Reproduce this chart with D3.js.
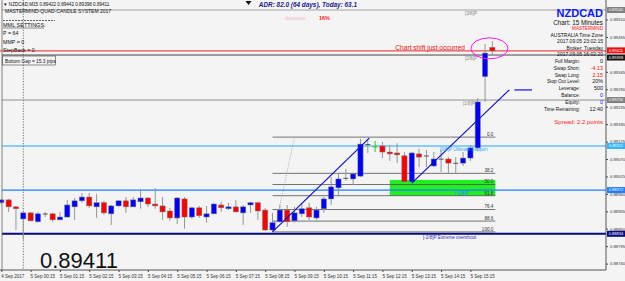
<!DOCTYPE html>
<html><head><meta charset="utf-8">
<script src="https://cdn.jsdelivr.net/npm/d3@7/dist/d3.min.js"></script>
<style>body{margin:0;background:#fff}svg{display:block}text{font-family:"Liberation Sans",Arial,sans-serif}</style>
</head><body><svg id="c" width="625" height="281"></svg>
<script>
// ---- data ----
const openP  = [0.88932,0.88941,0.88919,0.88881,0.88900,0.88872,0.88897,0.88897,0.88878,0.88887,0.88919,0.88938,0.88950,0.88919,0.88932,0.88897,0.88922,0.88938,0.88919,0.88935,0.88947,0.88928,0.88922,0.88906,0.88884,0.88944,0.88887,0.88916,0.88887,0.88897,0.88925,0.88913,0.88919,0.88900,0.88925,0.88932,0.88909,0.88846,0.88872,0.88909,0.88875,0.88897,0.88916,0.88884,0.88913,0.88944,0.88979,0.89010,0.89007,0.89016,0.89117,0.89108,0.89111,0.89092,0.89089,0.89080,0.88998,0.89086,0.89080,0.89048,0.89070,0.89070,0.89057,0.89057,0.89073,0.89105,0.89330,0.89422];
const highP  = [0.88944,0.88944,0.88922,0.88906,0.88903,0.88903,0.88903,0.88900,0.88903,0.88941,0.88947,0.88963,0.88963,0.88960,0.88938,0.88925,0.88941,0.88950,0.88950,0.88976,0.88950,0.88979,0.88950,0.88916,0.88950,0.88950,0.88919,0.88922,0.88922,0.88932,0.88935,0.88932,0.88941,0.88925,0.88935,0.88935,0.88916,0.88900,0.88925,0.88925,0.88919,0.88932,0.88932,0.88919,0.88950,0.89013,0.89026,0.89039,0.89026,0.89133,0.89133,0.89127,0.89124,0.89114,0.89120,0.89092,0.89092,0.89102,0.89098,0.89092,0.89098,0.89076,0.89076,0.89092,0.89114,0.89262,0.89433,0.89442];
const lowP   = [0.88928,0.88903,0.88846,0.88815,0.88872,0.88869,0.88887,0.88872,0.88878,0.88884,0.88878,0.88932,0.88916,0.88884,0.88894,0.88862,0.88919,0.88900,0.88919,0.88913,0.88919,0.88913,0.88878,0.88875,0.88865,0.88850,0.88881,0.88884,0.88869,0.88897,0.88903,0.88909,0.88903,0.88862,0.88900,0.88878,0.88843,0.88840,0.88869,0.88856,0.88869,0.88887,0.88878,0.88878,0.88900,0.88925,0.88957,0.89001,0.88988,0.89013,0.89089,0.89092,0.89073,0.89064,0.89057,0.88995,0.88994,0.89045,0.89045,0.89045,0.89029,0.89026,0.89026,0.89048,0.89064,0.89098,0.89250,0.89398];
const closeP = [0.88941,0.88919,0.88913,0.88900,0.88875,0.88897,0.88896,0.88878,0.88887,0.88925,0.88938,0.88950,0.88922,0.88932,0.88900,0.88922,0.88938,0.88919,0.88941,0.88947,0.88928,0.88922,0.88903,0.88884,0.88947,0.88887,0.88916,0.88891,0.88897,0.88928,0.88916,0.88919,0.88903,0.88919,0.88932,0.88906,0.88846,0.88869,0.88909,0.88872,0.88900,0.88913,0.88887,0.88909,0.88944,0.88982,0.89007,0.89008,0.89023,0.89117,0.89114,0.89108,0.89092,0.89086,0.89083,0.88998,0.89089,0.89076,0.89079,0.89070,0.89069,0.89057,0.89056,0.89073,0.89105,0.89250,0.89404,0.89411];
const signalBars = [51];
const timeTickBars = [0,4,8,12,16,20,24,28,32,36,40,44,48,52,56,60,64];
const timeTickLabels = ["4 Sep 2017","5 Sep 00:15","5 Sep 01:15","5 Sep 02:15","5 Sep 03:15","5 Sep 04:15","5 Sep 05:15","5 Sep 06:15","5 Sep 07:15","5 Sep 08:15","5 Sep 09:15","5 Sep 10:15","5 Sep 11:15","5 Sep 12:15","5 Sep 13:15","5 Sep 14:15","5 Sep 15:15"];
const priceTicks = [0.88740,0.88795,0.88850,0.88905,0.88960,0.89015,0.89070,0.89125,0.89180,0.89235,0.89290,0.89345,0.89455,0.89510];
const separatorBar = 3;
const bidPrice = 0.89411;
const mmlPrices = [0.89540,0.89398,0.89256,0.89111,0.88972,0.88834];
const mmlNames  = ["[3/8]P","[2/8]P","[1/8]P","[0/8]P Ultimate Support","[-1/8]P","[-2/8]P Extreme overshoot"];
const fibHigh = 0.89139, fibLow = 0.88840, fibStartBar = 37, fibEndBar = 67.4;
const fibLevels = [0.0,38.2,50.0,61.8,76.4,88.6,100.0];
const zoneTop = 0.89004, zoneBottom = 0.88954, zoneStartBar = 53, zoneEndBar = 67.4;
const trend1 = [[37,0.88840],[50.2,0.89136]];
const trend2 = [[56,0.88994],[69.3,0.89288]];
const trend2Ext = [[70,0.89288],[72.4,0.89288]];
const guide = [[37.3,0.88846],[40,0.89139]];
const infoLabels = ["Full Margin:","Swap Short:","Swap Long:","Stop Out Level:","Leverage:","Balance:","Equity:","Time Remaining:"];
const infoValues = ["0","-4.13","2.15","20%","500","0","0","12:40"];
const settings = ["P = 64","MMP = 0","StepBack = 0"];

// ---- drawing ----
const svg = d3.select('#c');
const W = 625, H = 281, plotL = 2, plotR = 606, plotB = 270;
svg.append('rect').attr('width',W).attr('height',H).attr('fill','#f4f4f4');

const x = d3.scaleLinear().domain([0,67]).range([1.3,492.4]);
const y = d3.scaleLinear().domain([0.88723,0.89540]).range([269,10]);

const plot = svg.append('g');
plot.append('line').attr('x1',x(separatorBar)).attr('x2',x(separatorBar)).attr('y1',0).attr('y2',plotB)
  .attr('stroke','#333').attr('stroke-width',0.7).attr('stroke-dasharray','1.2,1.5');

plot.append('rect').attr('x',x(zoneStartBar)).attr('width',x(zoneEndBar)-x(zoneStartBar))
  .attr('y',y(zoneTop)).attr('height',y(zoneBottom)-y(zoneTop)).attr('fill','#22ee22');

const mmlColors = ['#a0a0a0','#202020','#909090','#1aa3ff','#1e7fff','#0a0a80'];
const mmlWidths = [1,0.8,1,1.2,1.2,2];
mmlPrices.forEach((p,i)=>{
  plot.append('line').attr('x1',plotL).attr('x2',plotR).attr('y1',y(p)).attr('y2',y(p))
    .attr('stroke',mmlColors[i]).attr('stroke-width',mmlWidths[i]);
});
plot.append('line').attr('x1',0).attr('x2',plotR).attr('y1',y(bidPrice)).attr('y2',y(bidPrice))
  .attr('stroke','#e81010').attr('stroke-width',0.9);

const fibY = l => y(fibHigh - (fibHigh-fibLow)*l/100);
fibLevels.forEach(l=>{
  plot.append('line').attr('x1',x(fibStartBar)).attr('x2',x(fibEndBar)).attr('y1',fibY(l)).attr('y2',fibY(l))
    .attr('stroke','#505050').attr('stroke-width',0.8);
  plot.append('text').attr('x',x(fibEndBar)-2).attr('y',fibY(l)-1.2).attr('text-anchor','end')
    .attr('font-size',4.6).attr('fill','#333').text(l.toFixed(1));
});

plot.append('line').attr('x1',x(guide[0][0])).attr('y1',y(guide[0][1])).attr('x2',x(guide[1][0])).attr('y2',y(guide[1][1]))
  .attr('stroke','#888').attr('stroke-width',0.7).attr('stroke-dasharray','1,1.3');

const idx = d3.range(openP.length);
const cg = plot.append('g');
idx.forEach(i=>{
  const cx = x(i);
  const isSignal = signalBars.includes(i);
  cg.append('line').attr('x1',cx).attr('x2',cx).attr('y1',y(highP[i])).attr('y2',y(lowP[i]))
    .attr('stroke', isSignal ? '#20d020' : '#8f9a8f').attr('stroke-width',1);
  const top = y(Math.max(openP[i],closeP[i])), bot = y(Math.min(openP[i],closeP[i]));
  if (bot-top < 1.2 || isSignal) {
    cg.append('line').attr('x1',cx-2.5).attr('x2',cx+2.5).attr('y1',(top+bot)/2).attr('y2',(top+bot)/2)
      .attr('stroke', isSignal ? '#20d020' : '#555').attr('stroke-width',1);
  } else {
    cg.append('rect').attr('x',cx-2.6).attr('width',5.2).attr('y',top).attr('height',bot-top)
      .attr('fill', closeP[i] >= openP[i] ? '#0000ff' : '#ff0000')
      .attr('stroke','#7a7a7a').attr('stroke-width',0.5);
  }
});

const tl = (pts,col,w) => plot.append('line').attr('x1',x(pts[0][0])).attr('y1',y(pts[0][1]))
  .attr('x2',x(pts[1][0])).attr('y2',y(pts[1][1])).attr('stroke',col).attr('stroke-width',w);
tl(trend1,'#1010c8',1.2);
tl(trend2,'#1010c8',1.2);
tl(trend2Ext,'#5a5ae6',1.8);

const mmlLabelX = [465,465,463,440,455,423];
mmlNames.forEach((n,i)=>{
  plot.append('text').attr('x',mmlLabelX[i]).attr('y',y(mmlPrices[i])+ (i===5?5:4.6))
    .attr('font-size',4.6).attr('fill', i===3 ? '#1aa3ff' : (i===5 ? '#3030c0' : (i===4?'#1e7fff':'#888'))).text(n);
});

plot.append('ellipse').attr('cx',x(66.6)).attr('cy',y(0.89419)).attr('rx',18.5).attr('ry',10.5)
  .attr('fill','none').attr('stroke','#ff10ff').attr('stroke-width',1);

plot.append('text').attr('x',465).attr('y',50).attr('text-anchor','end').attr('font-size',6.6)
  .attr('fill','#e81010').text('Chart shift just occurred');

svg.append('line').attr('x1',plotR).attr('x2',plotR).attr('y1',0).attr('y2',plotB).attr('stroke','#555').attr('stroke-width',1);
svg.append('line').attr('x1',0).attr('x2',plotR).attr('y1',plotB).attr('y2',plotB).attr('stroke','#555').attr('stroke-width',1);
svg.append('line').attr('x1',plotL).attr('x2',plotL).attr('y1',0).attr('y2',plotB).attr('stroke','#666').attr('stroke-width',0.8);

const ya = d3.axisRight(y).tickValues(priceTicks).tickSize(2).tickFormat(d3.format('.5f'));
const yg = svg.append('g').attr('transform',`translate(${plotR},0)`).call(ya);
yg.select('.domain').remove();
yg.selectAll('text').attr('font-size',4.2).attr('fill','#333').attr('x',4);
yg.selectAll('line').attr('stroke','#444');

const xa = d3.axisBottom(x).tickValues(timeTickBars).tickSize(2).tickFormat((d,i)=>timeTickLabels[i]);
const xg = svg.append('g').attr('transform',`translate(0,${plotB})`).call(xa);
xg.select('.domain').remove();
xg.selectAll('text').attr('font-size',4.5).attr('fill','#333').attr('text-anchor','start').attr('dx',-0.5).attr('y',5);
xg.selectAll('line').attr('stroke','#444');

// axis price boxes [price, colour, vertical offset]
const boxes = [[mmlPrices[0],'#808080',0],[bidPrice,'#e81010',-0.5],[mmlPrices[1],'#151515',2.5],[mmlPrices[2],'#808080',0],[mmlPrices[3],'#33b5ff',0],[mmlPrices[4],'#1e7fff',0],[mmlPrices[5],'#0a0a80',0]];
boxes.forEach(([p,c,o])=>{
  svg.append('rect').attr('x',plotR+1).attr('y',y(p)-3+o).attr('width',18).attr('height',6).attr('fill',c);
  svg.append('text').attr('x',plotR+10).attr('y',y(p)+1.4+o).attr('text-anchor','middle').attr('font-size',4)
    .attr('fill','#fff').text(d3.format('.5f')(p));
});

svg.append('text').attr('x',3).attr('y',6).attr('font-size',4.6).attr('fill','#111')
  .text('\u25BC NZDCAD,M15  0.89422 0.89442 0.89398 0.89411');
svg.append('text').attr('x',5).attr('y',12.5).attr('font-size',5).attr('fill','#111')
  .text('MASTERMIND-QUAD-CANDLE SYSTEM 2017');
svg.append('line').attr('x1',3).attr('x2',55).attr('y1',20.5).attr('y2',20.5).attr('stroke','#222').attr('stroke-width',0.7).attr('stroke-dasharray','2,1');
svg.append('text').attr('x',3).attr('y',27).attr('font-size',5.5).attr('fill','#111').text('MML SETTINGS:');
svg.append('line').attr('x1',3).attr('x2',44).attr('y1',28).attr('y2',28).attr('stroke','#222').attr('stroke-width',0.5);
settings.forEach((s,i)=>svg.append('text').attr('x',3).attr('y',35+i*8.5).attr('font-size',5.3).attr('fill','#111').text(s));
svg.append('rect').attr('x',2.5).attr('y',56).attr('width',53).attr('height',9).attr('fill','none').attr('stroke','#444').attr('stroke-width',0.6);
svg.append('text').attr('x',5).attr('y',62.5).attr('font-size',4.8).attr('fill','#111').text('Bottom Gap = 15.3 pips');

svg.append('path').attr('d','M245.5,1 L251.5,1 L248.5,5 Z').attr('fill','#111');
svg.append('text').attr('x',357).attr('y',7).attr('text-anchor','end').attr('font-size',6.4)
  .attr('font-weight','bold').attr('font-style','italic').attr('fill','#1a1a8c').text('ADR: 82.0 (64 days), Today: 63.1');
svg.append('text').attr('x',285).attr('y',19.5).attr('font-size',5).attr('fill','#f3a6b8').text('\u0131l\u0131\u0131\u0131\u0131\u0131\u0131\u0131\u0131\u0131\u0131\u0131\u0131\u0131');
svg.append('text').attr('x',319).attr('y',19.5).attr('font-size',5.4).attr('font-weight','bold').attr('fill','#ff2020').text('16%');

const rp = svg.append('g').attr('text-anchor','end');
rp.append('text').attr('x',603).attr('y',17).attr('font-size',11).attr('font-weight','bold').attr('fill','#0b18ff').text('NZDCAD');
rp.append('text').attr('x',603).attr('y',24.5).attr('font-size',6.3).attr('fill','#111').text('Chart: 15 Minutes');
rp.append('text').attr('x',603).attr('y',30).attr('font-size',4.6).attr('fill','#ff1010').text('MASTERMIND');
rp.append('text').attr('x',603).attr('y',36.5).attr('font-size',5).attr('fill','#111').text('AUSTRALIA Time Zone');
rp.append('text').attr('x',603).attr('y',42.5).attr('font-size',5).attr('fill','#111').text('2017.09.05 23:02:15');
rp.append('text').attr('x',603).attr('y',50).attr('font-size',5).attr('fill','#111').text('Broker: Tuesday');
rp.append('text').attr('x',603).attr('y',55.5).attr('font-size',5).attr('fill','#111').text('2017.09.05 16:02:20');
const valColors = ['#111','#ff1010','#ff1010','#111','#111','#1515ff','#1515ff','#111'];
infoLabels.forEach((l,i)=>{
  const yy = 63 + i*6.8;
  rp.append('text').attr('x',580).attr('y',yy).attr('font-size',4.8).attr('fill','#111').text(l);
  rp.append('text').attr('x',603).attr('y',yy).attr('font-size',5.4).attr('fill',valColors[i]).text(infoValues[i]);
});
rp.append('text').attr('x',603).attr('y',124).attr('font-size',6).attr('fill','#ff1a1a').text('Spread: 2.2 points');

svg.append('text').attr('x',40).attr('y',268).attr('font-size',22).attr('fill','#111').text(d3.format('.5f')(bidPrice));
</script></body></html>
